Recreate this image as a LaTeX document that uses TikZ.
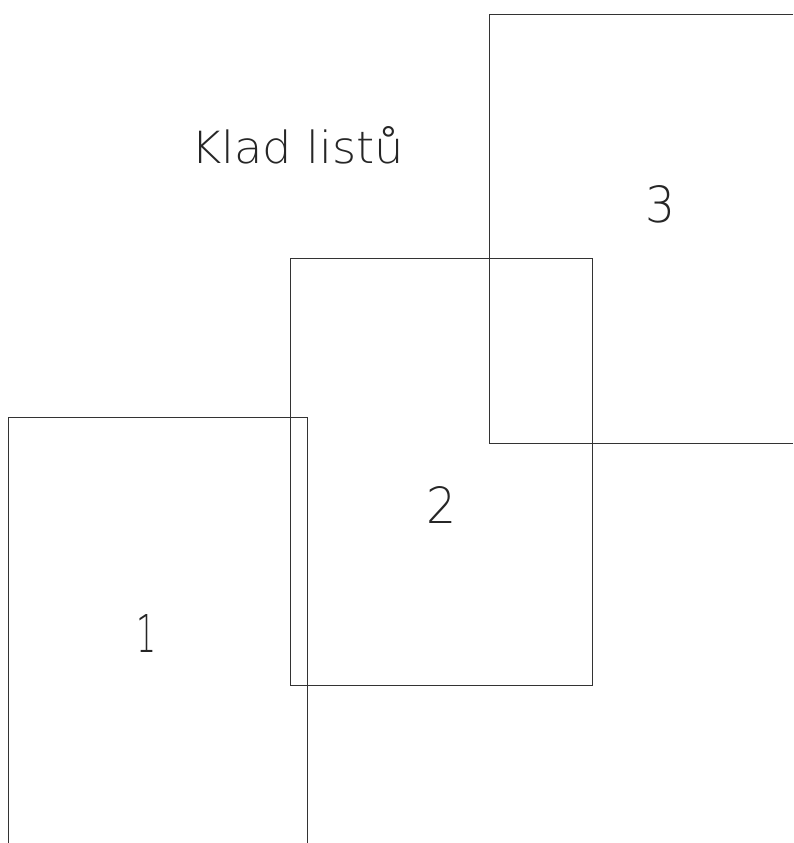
\documentclass[tikz,border=0pt]{standalone}
\usepackage{fontspec}
\newfontfamily\thinfont{DejaVu Sans ExtraLight}
\begin{document}
\begin{tikzpicture}[x=1pt,y=-1pt,
  sheet/.style={draw=black!80,line width=0.9pt},
  lbl/.style={inner sep=0pt,text=black!85,font=\thinfont}]
\useasboundingbox[fill=white] (0,0) rectangle (793,843);
% sheet 1 (open at the bottom edge)
\draw[sheet] (8,843) -- (8,417) -- (307,417) -- (307,843);
% sheet 2
\draw[sheet] (290,258) rectangle (592,685);
% sheet 3 (open at the right edge)
\draw[sheet] (793,14) -- (489,14) -- (489,443) -- (793,443);
\node[lbl] (title) at (297.5,145) {\resizebox{213pt}{37pt}{Klad listů}};
\node[lbl] (n1) at (147,633) {\resizebox{20pt}{38pt}{1}};
\node[lbl] (n2) at (441.5,504.5) {\resizebox{30pt}{37pt}{2}};
\node[lbl] (n3) at (660.5,204.5) {\resizebox{30pt}{37pt}{3}};
\end{tikzpicture}
\end{document}
